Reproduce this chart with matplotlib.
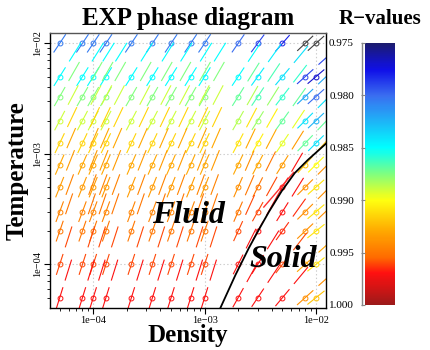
import numpy as np
import matplotlib
matplotlib.use('Agg')
import matplotlib.pyplot as plt
from matplotlib.colors import LinearSegmentedColormap, Normalize
from matplotlib.cm import ScalarMappable
from matplotlib.ticker import FixedLocator, FixedFormatter, LogLocator, NullFormatter

plt.rcParams['font.family'] = ['Liberation Serif', 'DejaVu Serif']
plt.rcParams['lines.scale_dashes'] = False

# state points (density columns x temperature rows)
rho = [5e-5, 8e-5, 1e-4, 1.3e-4, 2.2e-4, 3.4e-4, 5e-4, 7.5e-4, 1e-3,
       2e-3, 3e-3, 5e-3, 8e-3, 1e-2]
temp = [1e-2, 5e-3, 3.3e-3, 2e-3, 1.25e-3, 8e-4, 5e-4, 3e-4, 2e-4, 1e-4, 5e-5]

# correlation coefficient R at each state point
r_vals = [
    [0.9805] * 9 + [0.9800, 0.9790, 0.9780, 0.9720, 0.9720],
    [0.9850] * 9 + [0.9850, 0.9845, 0.9840, 0.9790, 0.9770],
    [0.9875] * 9 + [0.9870, 0.9865, 0.9860, 0.9820, 0.9800],
    [0.9890] * 9 + [0.9885, 0.9880, 0.9870, 0.9840, 0.9825],
    [0.9915] * 9 + [0.9910, 0.9905, 0.9895, 0.9870, 0.9840],
    [0.9930] * 9 + [0.9930, 0.9930, 0.9935, 0.9920, 0.9900],
    [0.9935] * 9 + [0.9940, 0.9950, 0.9970, 0.9940, 0.9910],
    [0.9945] * 9 + [0.9950, 0.9960, 0.9970, 0.9940, 0.9910],
    [0.9950] * 9 + [0.9960, 0.9970, 0.9965, 0.9940, 0.9910],
    [0.9960] * 9 + [0.9970, 0.9970, 0.9960, 0.9930, 0.9910],
    [0.9970] * 9 + [0.9970, 0.9970, 0.9970, 0.9940, 0.9920],
]

# density scaling exponent gamma (slope of the isomorph direction)
gammas = [
    [1.5] * 9 + [1.45, 1.35, 1.15, 0.95, 0.9],
    [1.6] * 9 + [1.5, 1.4, 1.2, 0.9, 0.85],
    [1.75] * 9 + [1.6, 1.5, 1.3, 0.95, 0.9],
    [1.9] * 9 + [1.75, 1.6, 1.4, 1.0, 0.95],
    [2.1] * 9 + [1.9, 1.75, 1.5, 1.05, 1.0],
    [2.3] * 9 + [2.1, 1.9, 1.6, 1.1, 1.0],
    [2.5] * 9 + [2.3, 2.0, 1.7, 1.0, 0.9],
    [2.7] * 9 + [2.3, 1.8, 1.6, 1.0, 0.85],
    [2.9] * 9 + [2.2, 1.8, 1.4, 0.95, 0.8],
    [3.1] * 9 + [2.0, 1.6, 1.3, 0.9, 0.8],
    [3.2] * 9 + [1.8, 1.5, 1.2, 0.9, 0.8],
]

# melting and freezing lines
rho_melt = [1.25e-3, 1.38e-3, 1.89e-3, 2.49e-3, 3.05e-3, 3.78e-3, 4.92e-3,
            6.44e-3, 8.43e-3, 1.08e-2, 1.33e-2]
temp_melt = [3.3e-5, 4.0e-5, 8.0e-5, 1.4e-4, 2.04e-4, 2.99e-4, 4.6e-4,
             6.7e-4, 8.79e-4, 1.10e-3, 1.33e-3]
rho_freeze = [3.4e-3, 6.3e-3]
temp_freeze = [3.3e-4, 6.8e-4]

major_ticks = [1e-4, 1e-3, 1e-2]
major_labels = ['1e\u221204', '1e\u221203', '1e\u221202']
cbar_ticks = [0.975, 0.980, 0.985, 0.990, 0.995, 1.000]

cmap = LinearSegmentedColormap.from_list('rvalues', [
    (0.0, '#1c1c6e'), (0.1, '#1010e8'), (0.2, '#3a6df0'), (0.4, '#00ffff'),
    (0.5, '#80ff80'), (0.6, '#ffff10'), (0.72, '#ffa800'), (0.82, '#ff6a00'),
    (0.88, '#ff1010'), (1.0, '#9c1a1a')])
cmap.set_under('#404040')
norm = Normalize(0.975, 1.0)

fig = plt.figure(figsize=(4.3, 3.5), dpi=100)
ax = fig.add_axes([50 / 430, 42 / 350, 276 / 430, 275 / 350])
ax.set_xscale('log')
ax.set_yscale('log')
ax.set_xlim(4.09e-5, 1.23e-2)
ax.set_ylim(4.03e-5, 1.24e-2)
ax.set_autoscale_on(False)
ax.grid(True, which='major', ls=':', color='#cccccc', lw=0.8)
ax.set_axisbelow(True)

for i, T in enumerate(temp):
    for j, d in enumerate(rho):
        col = cmap(norm(r_vals[i][j]))
        g = gammas[i][j]
        p = ax.transData.transform((d, T))
        u = np.array([1.0, g]) / np.hypot(1.0, g)
        ends = ax.transData.inverted().transform([p - 11 * u, p + 40 * u])
        ax.plot(ends[:, 0], ends[:, 1], color=col, lw=0.8, ls=(0, (15.8, 5.0)))
        ax.plot(d, T, 'o', ms=3.5, mfc='none', mec=col, mew=0.7)

ax.plot(rho_freeze, temp_freeze, color='#ff3030', lw=1.0, zorder=4)
ax.plot(rho_melt, temp_melt, color='black', lw=1.3, zorder=5)

ax.text(0.5, 0.309, 'Fluid', transform=ax.transAxes, ha='center', va='baseline',
        fontsize=23, weight='bold', style='italic', zorder=6)
ax.text(0.844, 0.149, 'Solid', transform=ax.transAxes, ha='center', va='baseline',
        fontsize=23, weight='bold', style='italic', zorder=6)

for axis in (ax.xaxis, ax.yaxis):
    axis.set_major_locator(FixedLocator(major_ticks))
    axis.set_major_formatter(FixedFormatter(major_labels))
    axis.set_minor_locator(LogLocator(base=10, subs=np.arange(2, 10)))
    axis.set_minor_formatter(NullFormatter())
ax.tick_params(which='major', direction='out', length=4, width=0.8, labelsize=7.5, pad=2)
ax.tick_params(which='minor', direction='out', length=2, width=0.6)
ax.tick_params(axis='y', labelrotation=90)
plt.setp(ax.get_yticklabels(), va='center')
for s in ax.spines.values():
    s.set_linewidth(1.0)
ax.spines['top'].set_color('#555555')

ax.set_xlabel('Density', fontsize=18, weight='bold', va='baseline')
ax.xaxis.set_label_coords(0.5, -0.122)
ax.set_ylabel('Temperature', fontsize=18, weight='bold', va='center')
ax.yaxis.set_label_coords(-0.12, 0.5)

fig.text(188 / 430, 1 - 25 / 350, 'EXP phase diagram', ha='center', va='baseline',
         fontsize=18, weight='bold')
fig.text(380 / 430, 1 - 24 / 350, 'R\u2212values', ha='center', va='baseline',
         fontsize=15, weight='bold')

cax = fig.add_axes([365 / 430, 45 / 350, 30 / 430, 262 / 350])
cb = fig.colorbar(ScalarMappable(norm=norm, cmap=cmap), cax=cax, ticks=cbar_ticks)
cb.outline.set_visible(False)
cax.invert_yaxis()
cax.yaxis.set_ticks_position('left')
cax.set_yticklabels(['%.3f' % t for t in cbar_ticks])
cax.tick_params(axis='y', direction='out', length=3, width=0.8, color='#888888',
                labelsize=8, pad=5)
cax.plot([-0.1, -0.1], [0.975, 1.0], color='#888888', lw=1.0, clip_on=False,
         scalex=False, scaley=False)

fig.savefig('out.png', dpi=100)
